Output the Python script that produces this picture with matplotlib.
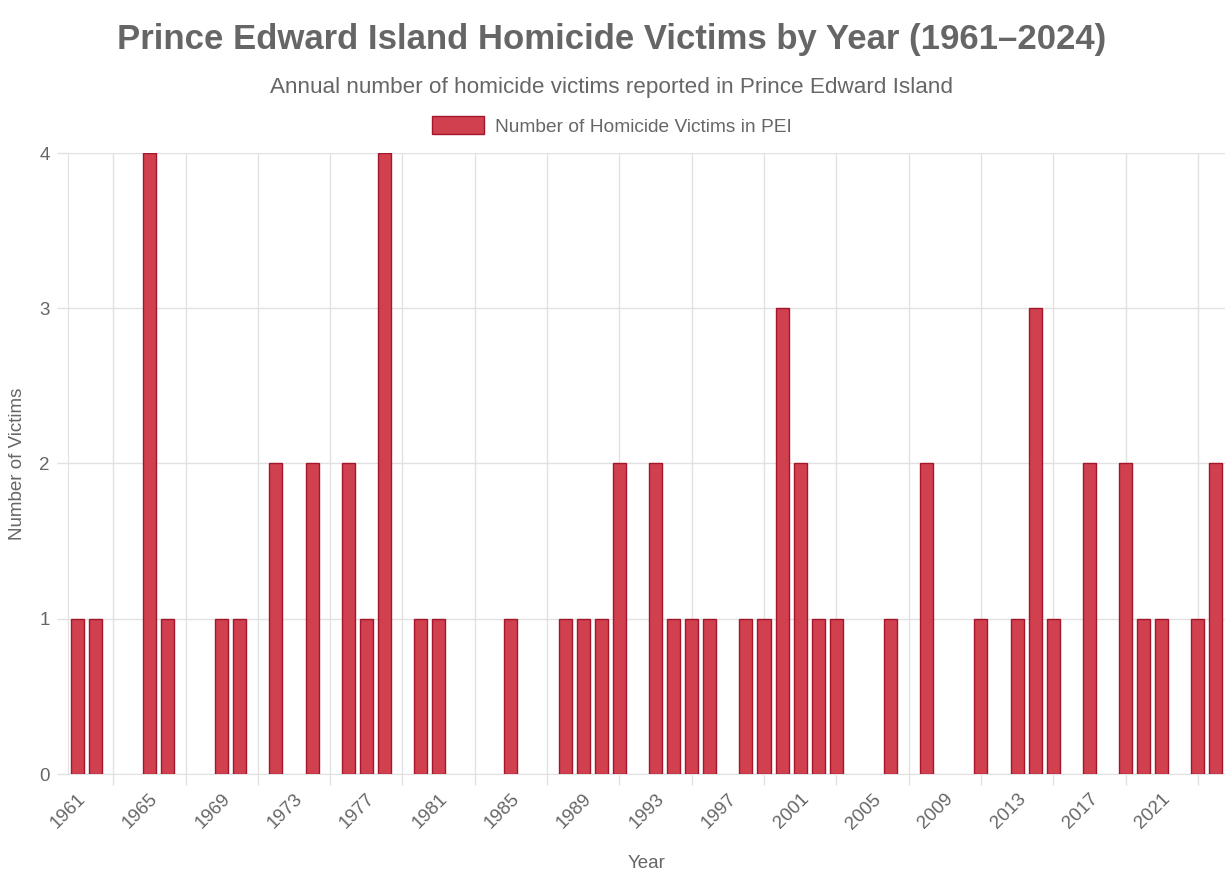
import numpy as np
import matplotlib
matplotlib.use("Agg")
import matplotlib.pyplot as plt
from matplotlib.patches import Patch

plt.rcParams["font.family"] = ["Liberation Sans", "DejaVu Sans"]

# Data
years = list(range(1961, 2025))
victims = [
    1, 1, 0, 0, 4, 1, 0, 0, 1, 1,   # 1961-1970
    0, 2, 0, 2, 0, 2, 1, 4, 0, 1,   # 1971-1980
    1, 0, 0, 0, 1, 0, 0, 1, 1, 1,   # 1981-1990
    2, 0, 2, 1, 1, 1, 0, 1, 1, 3,   # 1991-2000
    2, 1, 1, 0, 0, 1, 0, 2, 0, 0,   # 2001-2010
    1, 0, 1, 3, 1, 0, 2, 0, 2, 1,   # 2011-2020
    1, 0, 1, 2,                     # 2021-2024
]
title = "Prince Edward Island Homicide Victims by Year (1961\u20132024)"
subtitle = "Annual number of homicide victims reported in Prince Edward Island"
series_name = "Number of Homicide Victims in PEI"

text_col = "#666666"
grid_col = "#e1e1e1"
bar_fill = "#d1404e"
bar_edge = "#a3162c"

fig = plt.figure(figsize=(12.25, 8.8), dpi=100)
ax = fig.add_axes([68 / 1225, 1 - 774 / 880, (1225 - 68) / 1225, (774 - 153) / 880])

x = np.arange(len(years))
# no outline on empty years
widths = [1 if v > 0 else 0 for v in victims]
ax.bar(x, victims, width=0.72, color=bar_fill, edgecolor=bar_edge, linewidth=widths, zorder=3)

ax.set_xlim(-0.5, len(years) - 0.5)
ax.set_ylim(0, 4)

# year labels every 4 years, grid lines offset like the original
ax.set_xticks(x[::4])
ax.set_xticklabels([str(y) for y in years[::4]], rotation=45, ha="right",
                   rotation_mode="anchor", fontsize=13.5, color=text_col)
ax.tick_params(axis="x", which="major", length=0, pad=12)
ax.set_xticks(x[2::4], minor=True)
ax.tick_params(axis="x", which="minor", length=8, color=grid_col, width=1)
ax.grid(axis="x", which="minor", color=grid_col, linewidth=1, zorder=0)

ax.set_yticks(range(5))
ax.tick_params(axis="y", length=8, color=grid_col, width=1, labelsize=13.5,
               labelcolor=text_col, pad=5)
ax.grid(axis="y", which="major", color=grid_col, linewidth=1, zorder=0)

for side in ["top", "right"]:
    ax.spines[side].set_visible(False)
ax.spines["left"].set_color(grid_col)
ax.spines["bottom"].set_color(grid_col)

ax.set_xlabel("Year", fontsize=13.5, color=text_col, labelpad=16)
ax.set_ylabel("Number of Victims", fontsize=13.5, color=text_col, va="center")
ax.yaxis.set_label_coords((18 - 68) / 1157, 0.5)

fig.text(612 / 1225, 1 - 40 / 880, title, ha="center", va="center",
         fontsize=25, fontweight="bold", color=text_col)
fig.text(612 / 1225, 1 - 88 / 880, subtitle, ha="center", va="center",
         fontsize=16.2, color=text_col)

handle = Patch(facecolor=bar_fill, edgecolor=bar_edge, linewidth=1)
fig.legend([handle], [series_name], loc="center", bbox_to_anchor=(612 / 1225, 1 - 126 / 880),
           frameon=False, fontsize=13.8, handlelength=2.7, handleheight=1.0,
           handletextpad=0.6, labelcolor=text_col)

fig.savefig("out.png", dpi=100)
